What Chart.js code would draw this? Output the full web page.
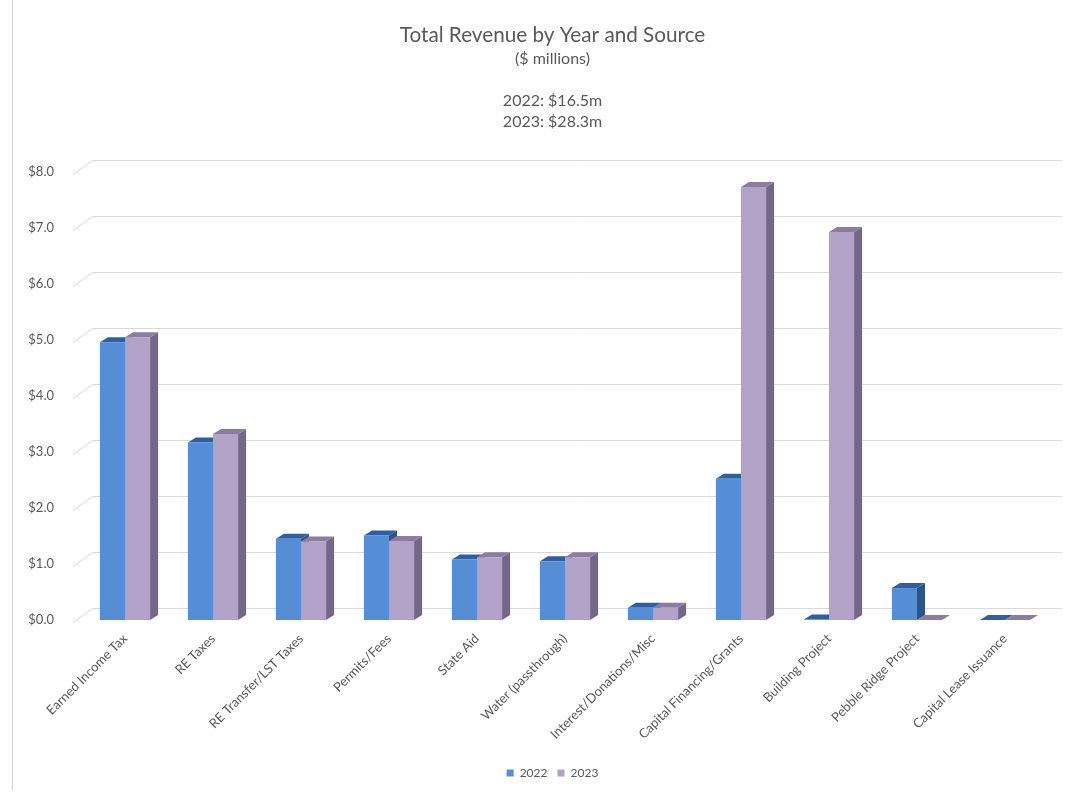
<!DOCTYPE html>
<html>
<head>
<meta charset="utf-8">
<script src="https://cdn.jsdelivr.net/npm/chart.js@4"></script>
<style>
  body { margin: 0; background: #fff; }
  #wrap { position: relative; width: 1085px; height: 794px; }
  #wrap:before { content: ""; position: absolute; left: 12px; top: 0; bottom: 4px; border-left: 1px solid #d4d4d4; }
</style>
</head>
<body>
<div id="wrap"><canvas id="revenueChart" width="1085" height="794"></canvas></div>
<script>
let categories = [
  "Earned Income Tax", "RE Taxes", "RE Transfer/LST Taxes", "Permits/Fees", "State Aid",
  "Water (passthrough)", "Interest/Donations/Misc", "Capital Financing/Grants",
  "Building Project", "Pebble Ridge Project", "Capital Lease Issuance"
];
let rev2022 = [4.96, 3.17, 1.45, 1.51, 1.08, 1.05, 0.22, 2.52, 0.01, 0.57, 0];
let rev2023 = [5.05, 3.32, 1.40, 1.41, 1.12, 1.12, 0.22, 7.73, 6.93, 0, 0];
let yTicks = [0, 1, 2, 3, 4, 5, 6, 7, 8];

let textColor = "#595959";
let fronts = ["#558ed5", "#b3a2c7"];
let tops = ["#2f5f9f", "#8c7ca2"];
let sides = ["#2a548c", "#736688"];

// fake 3d: back wall grid + top/side faces behind the library's front faces
let depth = { dx: 8, dy: 5 };
let wall = { dx: 12, dy: 12 };

let threeD = {
  id: "threeD",
  afterLayout(chart) {
    // title, subtitle and legend are centred on the whole picture, not the plot
    chart.boxes.forEach(b => {
      if (!b.axis) { b.left += 28; b.right += 28; }
    });
  },
  beforeDatasetsDraw(chart) {
    let ctx = chart.ctx;
    let y = chart.scales.y;
    let area = chart.chartArea;
    ctx.save();
    ctx.strokeStyle = "#d9d9d9";
    ctx.lineWidth = 1;
    for (let i = 0; i < yTicks.length; i++) {
      let py = Math.round(y.getPixelForValue(yTicks[i])) + 0.5;
      ctx.beginPath();
      ctx.moveTo(area.left - 8, py + 2);
      ctx.lineTo(area.left + wall.dx, py - wall.dy);
      ctx.lineTo(area.right + wall.dx + 1, py - wall.dy);
      ctx.stroke();
    }
    for (let d = 0; d < chart.data.datasets.length; d++) {
      let bars = chart.getDatasetMeta(d).data;
      for (let i = 0; i < bars.length; i++) {
        let b = bars[i];
        let x1 = b.x - b.width / 2, x2 = b.x + b.width / 2;
        let top = b.y, bottom = b.base;
        ctx.fillStyle = sides[d];
        ctx.beginPath();
        ctx.moveTo(x2, top);
        ctx.lineTo(x2 + depth.dx, top - depth.dy);
        ctx.lineTo(x2 + depth.dx, bottom - depth.dy);
        ctx.lineTo(x2, bottom);
        ctx.closePath();
        ctx.fill();
        ctx.fillStyle = tops[d];
        ctx.beginPath();
        ctx.moveTo(x1, top);
        ctx.lineTo(x1 + depth.dx, top - depth.dy);
        ctx.lineTo(x2 + depth.dx, top - depth.dy);
        ctx.lineTo(x2, top);
        ctx.closePath();
        ctx.fill();
      }
    }
    ctx.restore();
  }
};

new Chart(document.getElementById("revenueChart"), {
  type: "bar",
  data: {
    labels: categories,
    datasets: [
      { label: "2022", data: rev2022, backgroundColor: fronts[0] },
      { label: "2023", data: rev2023, backgroundColor: fronts[1] }
    ]
  },
  options: {
    responsive: false,
    animation: false,
    layout: { padding: { left: 0, right: 36, top: 0, bottom: 5 } },
    categoryPercentage: 0.57,
    barPercentage: 1,
    plugins: {
      title: {
        display: true,
        text: "Total Revenue by Year and Source",
        color: textColor,
        font: { family: "Lato", size: 20.7, weight: "normal" },
        padding: { top: 23, bottom: 0 }
      },
      subtitle: {
        display: true,
        text: ["($ millions)", "", "2022: $16.5m", "2023: $28.3m"],
        color: textColor,
        font: { family: "Lato", size: 16, lineHeight: 1.33 },
        padding: { top: 0, bottom: 39 }
      },
      legend: {
        position: "bottom",
        labels: {
          boxWidth: 7, boxHeight: 7, padding: 10,
          color: textColor,
          font: { family: "Lato", size: 12 }
        }
      },
      tooltip: { enabled: false }
    },
    scales: {
      x: {
        grid: { display: false },
        border: { display: false },
        ticks: {
          color: textColor, autoSkip: false,
          minRotation: 45, maxRotation: 45,
          font: { family: "Lato", size: 13 }
        },
        afterFit(scale) { scale.height = 137; }
      },
      y: {
        min: 0, max: 8,
        grid: { display: false },
        border: { display: false },
        afterBuildTicks(scale) { scale.ticks = yTicks.map(v => ({ value: v })); },
        ticks: {
          color: textColor, padding: 19,
          font: { family: "Lato", size: 13 },
          callback: v => "$" + v.toFixed(1)
        },
        afterFit(scale) { scale.width = 81; }
      }
    }
  },
  plugins: [threeD]
});
</script>
</body>
</html>
